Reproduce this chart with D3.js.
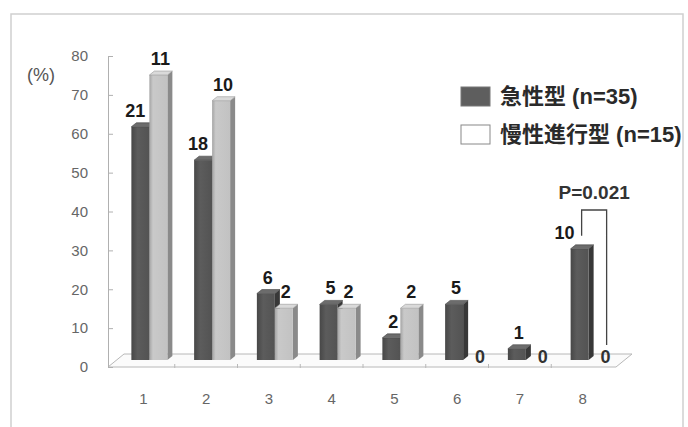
<!DOCTYPE html>
<html>
<head>
<meta charset="utf-8">
<script src="https://cdn.jsdelivr.net/npm/d3@7"></script>
<style>
  body { margin: 0; background: #fff; }
  svg text { font-family: "Liberation Sans", "Noto Sans CJK JP", sans-serif; }
</style>
</head>
<body>
<script>
// data
var categories = ["1", "2", "3", "4", "5", "6", "7", "8"];
var acuteCounts = [21, 18, 6, 5, 2, 5, 1, 10];
var acutePct = [60.0, 51.4, 17.1, 14.3, 5.7, 14.3, 2.9, 28.6];
var chronicCounts = [11, 10, 2, 2, 2, 0, 0, 0];
var chronicPct = [73.3, 66.7, 13.3, 13.3, 13.3, 0, 0, 0];
var yTicks = [0, 10, 20, 30, 40, 50, 60, 70, 80];
var seriesNames = ["急性型 (n=35)", "慢性進行型 (n=15)"];
var pLabel = "P=0.021";

var width = 688, height = 427;

var svg = d3.select("body").append("svg")
    .attr("width", width)
    .attr("height", height);

// outer frame
svg.append("rect")
    .attr("x", 11).attr("y", 14)
    .attr("width", 672).attr("height", 440)
    .attr("fill", "#fff")
    .attr("stroke", "#cfcfcf")
    .attr("stroke-width", 1.5);

var y = d3.scaleLinear().domain([0, 80]).range([367, 56]);
var x = d3.scaleBand().domain(categories).range([112, 614]);

// 3d offsets
var floorDx = 16, floorDy = 13;
var midDy = 7;
var barW = 18, capDx = 5, capDy = 4;

function yBar(v) { return y(v) - midDy; }
function pairCenter(c) { return x(c) + x.bandwidth() / 2 + 6; }

// floor
var fx0 = 108, fx1 = 616, fy = y(0);
svg.append("path")
    .attr("d", "M" + fx0 + "," + fy + "L" + (fx0 + floorDx) + "," + (fy - floorDy) +
               "L" + (fx1 + floorDx) + "," + (fy - floorDy) + "L" + fx1 + "," + fy + "Z")
    .attr("fill", "#fbfbfb")
    .attr("stroke", "#b8b8b8")
    .attr("stroke-width", 1);

// small ticks on floor front edge
svg.append("g").selectAll("line")
    .data(categories.slice(1))
    .enter().append("line")
    .attr("x1", function(d) { return x(d); })
    .attr("x2", function(d) { return x(d); })
    .attr("y1", fy - 3).attr("y2", fy + 1)
    .attr("stroke", "#b8b8b8");

// y axis
var yAxis = d3.axisLeft(y)
    .tickValues(yTicks)
    .tickSizeInner(-5)
    .tickSizeOuter(0)
    .tickPadding(20);

var gy = svg.append("g")
    .attr("transform", "translate(108,0)")
    .call(yAxis);
gy.select(".domain").attr("stroke", "#b0b0b0");
gy.selectAll(".tick line").attr("stroke", "#b0b0b0");
gy.selectAll(".tick text")
    .attr("fill", "#666")
    .style("font-size", "15px");

svg.append("text")
    .attr("x", 41).attr("y", 81)
    .attr("text-anchor", "middle")
    .attr("fill", "#555")
    .style("font-size", "18px")
    .text("(%)");

// x axis labels
var xAxis = d3.axisBottom(x).tickSize(0).tickPadding(5);
var gx = svg.append("g")
    .attr("transform", "translate(0,388)")
    .call(xAxis);
gx.select(".domain").remove();
gx.selectAll(".tick text")
    .attr("fill", "#666")
    .style("font-size", "15px");

// gradients for bar fronts
var defs = svg.append("defs");
function grad(id, stops) {
  var g = defs.append("linearGradient").attr("id", id)
      .attr("x1", "0").attr("x2", "1").attr("y1", "0").attr("y2", "0");
  stops.forEach(function(s) {
    g.append("stop").attr("offset", s[0]).attr("stop-color", s[1]);
  });
}
grad("darkFront", [[0, "#474747"], [0.35, "#5c5c5c"], [1, "#535353"]]);
grad("lightFront", [[0, "#a4a4a4"], [0.2, "#c9c9c9"], [1, "#c2c2c2"]]);

var styles = [
  { front: "url(#darkFront)", side: "#383838", top: "#6c6c6c", edge: "#444" },
  { front: "url(#lightFront)", side: "#8a8a8a", top: "#dadada", edge: "#999" }
];

var bars = [];
categories.forEach(function(c, i) {
  bars.push({ cat: c, s: 0, v: acutePct[i], n: acuteCounts[i], x0: pairCenter(c) - barW });
  bars.push({ cat: c, s: 1, v: chronicPct[i], n: chronicCounts[i], x0: pairCenter(c) });
});

var gb = svg.append("g");
bars.filter(function(d) { return d.v > 0; }).forEach(function(d) {
  var st = styles[d.s];
  var x0 = d.x0, x1 = d.x0 + barW, yt = yBar(d.v), yb = yBar(0);
  var g = gb.append("g");
  g.append("path")
      .attr("d", "M" + x1 + "," + yt + "L" + (x1 + capDx) + "," + (yt - capDy) +
                 "L" + (x1 + capDx) + "," + (yb - capDy) + "L" + x1 + "," + yb + "Z")
      .attr("fill", st.side);
  g.append("rect")
      .attr("x", x0).attr("y", yt)
      .attr("width", barW).attr("height", yb - yt)
      .attr("fill", st.front);
  g.append("path")
      .attr("d", "M" + x0 + "," + yt + "L" + (x0 + capDx) + "," + (yt - capDy) +
                 "L" + (x1 + capDx) + "," + (yt - capDy) + "L" + x1 + "," + yt + "Z")
      .attr("fill", st.top)
      .attr("stroke", st.edge)
      .attr("stroke-width", 0.6);
});

// value labels (counts)
svg.append("g").selectAll("text")
    .data(bars)
    .enter().append("text")
    .attr("x", function(d) {
      if (d.v === 0) return d.x0 + barW / 2 + 8;
      if (d.cat === "8") return d.x0 - 6;
      if (d.s === 0 && d.n >= 10) return d.x0 + barW / 2 - 5;
      return d.x0 + barW / 2 + 2;
    })
    .attr("y", function(d) {
      if (d.v === 0) return yBar(0) + 3;
      return yBar(d.v) - capDy - 6;
    })
    .attr("text-anchor", "middle")
    .attr("fill", function(d) { return d.v === 0 ? "#333" : "#1a1a1a"; })
    .style("font-size", "18px")
    .style("font-weight", "bold")
    .text(function(d) { return d.n; });

// significance bracket on category 8
var b8 = bars.filter(function(d) { return d.cat === "8"; });
var bl = b8[0].x0 + barW / 2 + 2, br = b8[1].x0 + barW;
var bTop = 210;
svg.append("path")
    .attr("d", "M" + bl + "," + (yBar(b8[0].v) - capDy - 9) + "V" + bTop + "H" + br + "V" + (yBar(0) - 15))
    .attr("fill", "none")
    .attr("stroke", "#444")
    .attr("stroke-width", 1.3);
svg.append("text")
    .attr("x", (bl + br) / 2).attr("y", 199)
    .attr("text-anchor", "middle")
    .attr("fill", "#333")
    .style("font-size", "19px")
    .style("font-weight", "bold")
    .text(pLabel);

// legend
var legend = svg.append("g").attr("transform", "translate(461,87)");
seriesNames.forEach(function(name, i) {
  legend.append("rect")
      .attr("x", 0).attr("y", i * 38)
      .attr("width", 29).attr("height", 19)
      .attr("fill", i === 0 ? "#5e5e5e" : "#fff")
      .attr("stroke", i === 0 ? "#777" : "#888")
      .attr("stroke-width", 1);
  legend.append("text")
      .attr("x", 39).attr("y", i * 38 + 17)
      .attr("fill", "#2a2a2a")
      .style("font-size", "22px")
      .style("font-weight", "bold")
      .text(name);
});
</script>
</body>
</html>
